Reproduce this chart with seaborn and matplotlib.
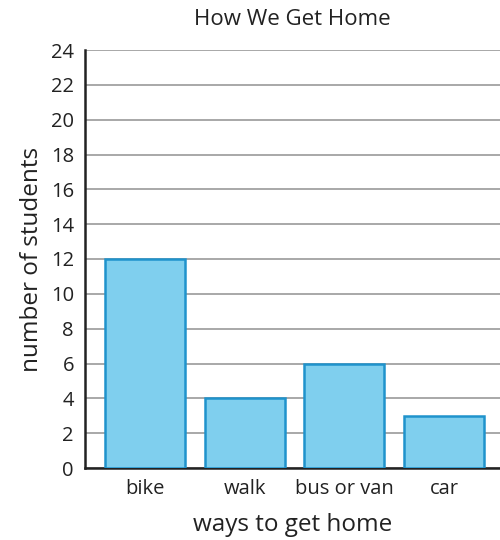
import pandas as pd
import seaborn as sns
import matplotlib.pyplot as plt

ways = ["bike", "walk", "bus or van", "car"]
students = [12, 4, 6, 3]
y_ticks = list(range(0, 25, 2))

sns.set_theme(style="white")
plt.rcParams['font.family'] = ['Open Sans', 'DejaVu Sans']

df = pd.DataFrame({"way": ways, "count": students})

fig = plt.figure(figsize=(5.0, 5.4), dpi=100)
ax = fig.add_axes([85 / 500, 72 / 540, 415 / 500, 418 / 540])

sns.barplot(data=df, x="way", y="count", color="#7fcfee", edgecolor="#1f93cc",
            linewidth=1.8, width=0.8, saturation=1, ax=ax, zorder=3)

ax.set_ylim(0, 24)
ax.set_xlim(-0.6, 3.56)
ax.set_yticks(y_ticks)
ax.yaxis.grid(True, color="#999999", linewidth=1.2, zorder=0)
ax.set_axisbelow(True)
ax.tick_params(axis="both", length=0, labelsize=14.5, colors="#222222")
ax.tick_params(axis="x", pad=8)
ax.tick_params(axis="y", pad=8)

for s in ["top", "right"]:
    ax.spines[s].set_visible(False)
for s in ["left", "bottom"]:
    ax.spines[s].set_color("#222222")
    ax.spines[s].set_linewidth(1.8)

ax.set_xlabel("ways to get home", fontsize=17.5, color="#222222", labelpad=10)
ax.set_ylabel("number of students", fontsize=17.5, color="#222222", labelpad=5)
ax.set_title("How We Get Home", fontsize=16, color="#222222", pad=18)

fig.savefig("out.png", dpi=100)
